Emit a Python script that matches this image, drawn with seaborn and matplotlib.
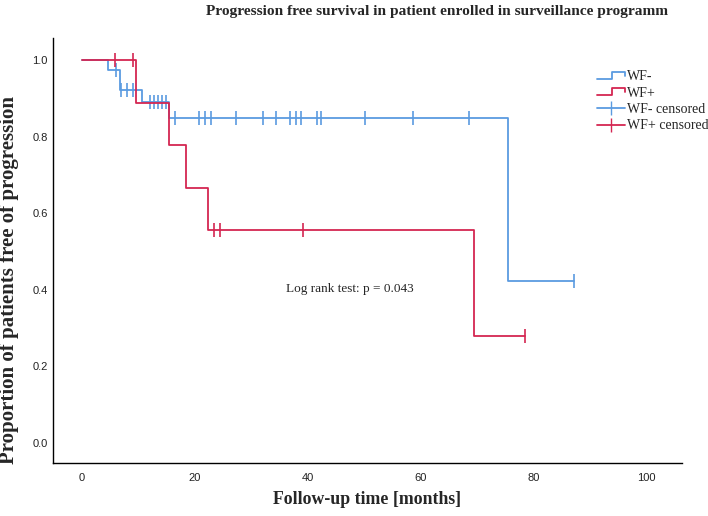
import numpy as np
import pandas as pd
import matplotlib
matplotlib.use("Agg")
import matplotlib.pyplot as plt
import seaborn as sns
from matplotlib.lines import Line2D
from matplotlib.legend_handler import HandlerBase

# Kaplan-Meier step values
wf_neg_times = [0, 4.7, 6.7, 10.6, 15.5, 75.4, 87.2]
wf_neg_surv = [1.0, 0.975, 0.922, 0.89, 0.848, 0.424, 0.424]
wf_neg_censored = [6.0, 7.0, 8.0, 9.1, 12.0, 12.8, 13.5, 14.2, 14.9, 16.5, 20.8, 21.8,
                   22.8, 27.3, 32.0, 34.4, 36.8, 37.9, 38.8, 41.6, 42.3, 50.1, 58.7, 68.5, 87.2]

wf_pos_times = [0, 9.6, 15.5, 18.5, 22.4, 69.5, 78.4]
wf_pos_surv = [1.0, 0.889, 0.778, 0.667, 0.556, 0.278, 0.278]
wf_pos_censored = [5.8, 9.1, 23.4, 24.4, 39.1, 78.4]

x_ticks = [0, 20, 40, 60, 80, 100]
y_ticks = [0.0, 0.2, 0.4, 0.6, 0.8, 1.0]

BLUE = "#5b9be0"
RED = "#d42652"


def censored_frame(times, surv, cens):
    # look up the curve value at each censoring time
    idx = np.searchsorted(times, cens, side="right") - 1
    return pd.DataFrame({"t": cens, "s": np.asarray(surv)[idx]})


class StepHandler(HandlerBase):
    def create_artists(self, legend, orig_handle, xdescent, ydescent,
                       width, height, fontsize, trans):
        x0 = -xdescent
        lo = -ydescent + height * 0.15
        hi = -ydescent + height * 0.85
        xs = [x0, x0 + width * 0.55, x0 + width * 0.55, x0 + width, x0 + width]
        ys = [lo, lo, hi, hi, lo + (hi - lo) * 0.4]
        line = Line2D(xs, ys, color=orig_handle.get_color(), lw=1.3)
        line.set_transform(trans)
        return [line]


sns.set_style("white")
plt.rcParams["font.family"] = ["Liberation Serif", "DejaVu Serif"]

fig = plt.figure(figsize=(7.08, 5.16), dpi=100)
ax = fig.add_axes([0.075, 0.103, 0.888, 0.823])

neg = pd.DataFrame({"t": wf_neg_times, "s": wf_neg_surv})
pos = pd.DataFrame({"t": wf_pos_times, "s": wf_pos_surv})

sns.lineplot(data=neg, x="t", y="s", ax=ax, color=BLUE, lw=1.3,
             drawstyle="steps-post", estimator=None, sort=False)
sns.lineplot(data=pos, x="t", y="s", ax=ax, color=RED, lw=1.3,
             drawstyle="steps-post", estimator=None, sort=False)

sns.scatterplot(data=censored_frame(wf_neg_times, wf_neg_surv, wf_neg_censored),
                x="t", y="s", ax=ax, marker="|", s=90, color=BLUE, linewidth=1.2)
sns.scatterplot(data=censored_frame(wf_pos_times, wf_pos_surv, wf_pos_censored),
                x="t", y="s", ax=ax, marker="|", s=90, color=RED, linewidth=1.2)

ax.set_xlim(-5.1, 106.2)
ax.set_ylim(-0.052, 1.057)
ax.set_xticks(x_ticks)
ax.set_yticks(y_ticks)
ax.set_yticklabels([f"{v:.1f}" for v in y_ticks])
ax.tick_params(length=0, labelsize=8, colors="#222222")
ax.tick_params(axis="x", pad=7)
ax.tick_params(axis="y", pad=4)
for lab in ax.get_xticklabels() + ax.get_yticklabels():
    lab.set_family(["Liberation Sans", "DejaVu Sans"])

sns.despine(ax=ax)
for sp in ("left", "bottom"):
    ax.spines[sp].set_color("black")
    ax.spines[sp].set_linewidth(1.0)

ax.set_xlabel("Follow-up time [months]", fontsize=12.8, fontweight="bold")
ax.set_ylabel("Proportion of patients free of progression", fontsize=15,
              fontweight="bold")
ax.xaxis.set_label_coords(0.5, -0.066)
ax.yaxis.set_label_coords(-0.054, 0.43)

fig.text(0.617, 0.978, "Progression free survival in patient enrolled in surveillance programm",
         ha="center", va="center", fontsize=11.1, fontweight="bold")

ax.text(47.5, 0.403, "Log rank test: p = 0.043", ha="center", va="center", fontsize=9.5)

handles = [Line2D([], [], color=BLUE), Line2D([], [], color=RED),
           Line2D([], [], color=BLUE, marker="|", markersize=10, lw=1.3),
           Line2D([], [], color=RED, marker="|", markersize=10, lw=1.3)]
labels = ["WF-", "WF+", "WF- censored", "WF+ censored"]
fig.legend(handles, labels, loc="upper left", bbox_to_anchor=(0.835, 0.875),
           frameon=False, fontsize=10, handlelength=2.0, handletextpad=0.2,
           labelspacing=0.25, borderaxespad=0,
           handler_map={handles[0]: StepHandler(), handles[1]: StepHandler()})

fig.savefig("out.png", dpi=100)
